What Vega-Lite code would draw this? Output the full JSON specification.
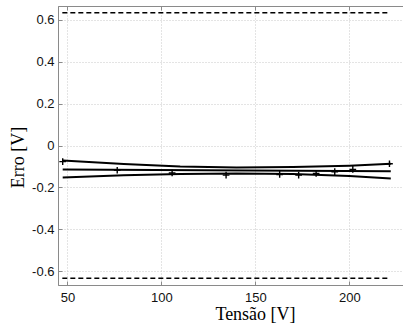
{
  "$schema": "https://vega.github.io/schema/vega-lite/v6.json",
  "width": 345,
  "height": 279,
  "autosize": {"type": "none"},
  "padding": {"left": 58, "top": 6, "right": 0, "bottom": 39},
  "background": "white",
  "config": {
    "view": {"stroke": "#9a9a9a", "strokeWidth": 1},
    "axis": {
      "domainColor": "#8a8a8a",
      "tickColor": "#8a8a8a",
      "gridColor": "#c8c8c8",
      "gridDash": [1, 2],
      "gridWidth": 1,
      "labelFont": "Liberation Sans",
      "labelFontSize": 13,
      "labelColor": "#111",
      "titleFont": "Liberation Serif",
      "titleFontSize": 18,
      "titleFontWeight": "normal",
      "titleColor": "#000"
    }
  },
  "datasets": {
    "limits": [
      {"x": 47.3, "x2": 221.3, "y": 0.633},
      {"x": 47.3, "x2": 221.3, "y": -0.633}
    ],
    "curves": [
      {"serie": "upper", "x": 47.5, "y": -0.072},
      {"serie": "upper", "x": 80, "y": -0.088},
      {"serie": "upper", "x": 110, "y": -0.1},
      {"serie": "upper", "x": 140, "y": -0.105},
      {"serie": "upper", "x": 170, "y": -0.103},
      {"serie": "upper", "x": 200, "y": -0.096},
      {"serie": "upper", "x": 222, "y": -0.087},
      {"serie": "fit", "x": 47.5, "y": -0.114},
      {"serie": "fit", "x": 222, "y": -0.123},
      {"serie": "lower", "x": 47.5, "y": -0.152},
      {"serie": "lower", "x": 80, "y": -0.142},
      {"serie": "lower", "x": 110, "y": -0.136},
      {"serie": "lower", "x": 140, "y": -0.133},
      {"serie": "lower", "x": 170, "y": -0.136},
      {"serie": "lower", "x": 200, "y": -0.145},
      {"serie": "lower", "x": 222, "y": -0.157}
    ],
    "points": [
      {"x": 47.5, "y": -0.077},
      {"x": 76.5, "y": -0.118},
      {"x": 105.7, "y": -0.131},
      {"x": 134.4, "y": -0.141},
      {"x": 162.9, "y": -0.138},
      {"x": 173, "y": -0.141},
      {"x": 182.3, "y": -0.133},
      {"x": 192.2, "y": -0.125},
      {"x": 201.8, "y": -0.114},
      {"x": 221.3, "y": -0.087}
    ]
  },
  "resolve": {"axis": {"x": "independent"}},
  "layer": [
    {
      "data": {"name": "limits"},
      "mark": {"type": "rule", "color": "black", "strokeWidth": 1.5, "strokeDash": [5, 3]},
      "encoding": {
        "x": {
          "field": "x", "type": "quantitative",
          "scale": {"domain": [45, 228.5], "nice": false, "zero": false},
          "axis": {
            "orient": "bottom",
            "title": "Tensão [V]", "values": [50, 100, 150, 200],
            "tickSize": -4, "labelPadding": 10, "titleX": 197, "titleY": 29,
            "titleBaseline": "middle", "grid": true
          }
        },
        "x2": {"field": "x2"},
        "y": {
          "field": "y", "type": "quantitative",
          "scale": {"domain": [-0.665, 0.665], "nice": false, "zero": false},
          "axis": {
            "title": "Erro [V]", "values": [-0.6, -0.4, -0.2, 0, 0.2, 0.4, 0.6],
            "labelExpr": "datum.value == 0 ? '0' : replace(format(datum.value, '.1f'), '−', '-')",
            "tickSize": -4, "labelPadding": 8,
            "titleX": -40, "titleY": 151, "titleBaseline": "middle", "grid": true
          }
        }
      }
    },
    {
      "data": {"name": "curves"},
      "mark": {"type": "line", "color": "black", "strokeWidth": 2},
      "encoding": {
        "x": {"field": "x", "type": "quantitative", "axis": {"orient": "top", "values": [50, 100, 150, 200], "labels": false, "title": null, "tickSize": -4, "grid": false}},
        "y": {"field": "y", "type": "quantitative"},
        "detail": {"field": "serie"}
      }
    },
    {
      "data": {"name": "points"},
      "mark": {"type": "point", "shape": "M-1,0H1M0,-1V1", "filled": false, "color": "black", "strokeWidth": 1.4, "size": 45, "opacity": 1},
      "encoding": {
        "x": {"field": "x", "type": "quantitative", "axis": null},
        "y": {"field": "y", "type": "quantitative"}
      }
    }
  ]
}
